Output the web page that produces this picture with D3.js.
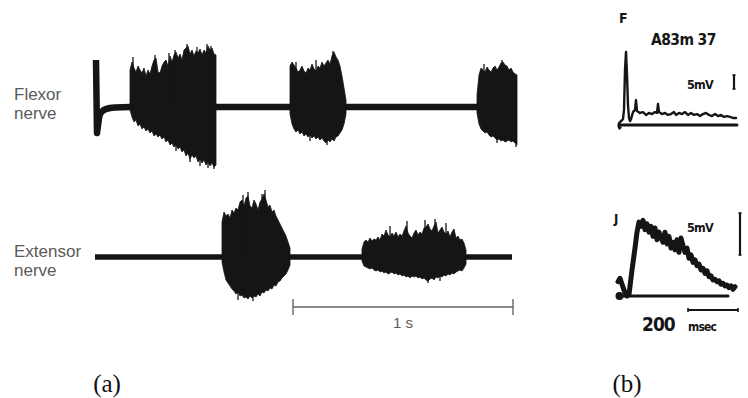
<!DOCTYPE html>
<html>
<head>
<meta charset="utf-8">
<script src="https://cdn.jsdelivr.net/npm/d3@7"></script>
<style>
  html, body { margin: 0; padding: 0; background: #fff; }
  svg { display: block; }
</style>
</head>
<body>
<svg id="fig" width="748" height="398"></svg>
<script>
// ---- (a) nerve recordings: envelope samples, 220 per second, every 2nd sample stored ----
const SAMPLE_RATE = 220;
const STEP = 2;

// flexor stimulus artefact, [sample, amplitude]
const flexorArtefact = [[1, 4.7], [2, -2.6], [4, -1.1], [5, -0.7], [8, -0.35], [11, -0.2], [15, -0.1], [20, -0.05], [35, 0]];
const flexorEnd = 422;
const flexorBurstStarts = [35, 195, 382];
const flexorBurst1Hi = [3.7, 4.5, 3.9, 3.5, 4.1, 3.7, 3.4, 3.9, 3.1, 3.7, 3.3, 4.1, 4.7, 4.9, 3.5, 3.4, 4.1, 4.5, 4.7, 4.1, 5.1, 4.5, 5.2, 5.5, 4.9, 5.3, 4.7, 5.7, 5.9, 6.1, 5.3, 5.7, 5.1, 5.6, 5.4, 5.8, 5.2, 5.7, 5.4, 6.1, 5.7, 5.9, 5.3, 5.2];
const flexorBurst1Lo = [-0.3, -1.0, -1.5, -1.3, -1.9, -1.7, -2.2, -2.0, -2.4, -2.2, -2.6, -2.4, -2.9, -2.7, -3.0, -2.8, -3.2, -3.0, -3.5, -3.3, -3.8, -3.6, -4.0, -3.8, -4.2, -4.0, -4.5, -4.3, -4.9, -4.6, -5.2, -4.8, -5.1, -4.9, -5.5, -5.2, -5.6, -5.3, -5.8, -5.5, -5.9, -5.6, -6.0, -5.8];
const flexorBurst2Hi = [4.1, 4.5, 4.2, 3.9, 3.5, 3.7, 4.1, 3.6, 3.4, 3.9, 3.7, 4.3, 3.8, 3.6, 4.1, 3.9, 4.5, 4.1, 4.4, 4.7, 4.3, 5.1, 5.5, 5.0, 4.7, 4.1, 3.1, 1.9, 0.7];
const flexorBurst2Lo = [-0.7, -1.7, -2.2, -2.5, -2.3, -2.7, -2.5, -2.9, -2.7, -3.0, -2.8, -3.1, -2.9, -3.2, -3.0, -3.3, -3.1, -3.4, -3.6, -3.3, -3.5, -3.2, -3.4, -3.0, -2.9, -2.6, -2.3, -1.7, -0.7];
const flexorBurst3Hi = [1.2, 3.2, 3.9, 3.7, 3.5, 4.0, 3.7, 3.5, 3.9, 4.1, 3.7, 4.0, 4.4, 4.5, 4.2, 4.1, 3.7, 3.9, 3.5, 3.3, 3.2];
const flexorBurst3Lo = [-0.6, -1.7, -2.2, -2.4, -2.6, -2.5, -2.8, -3.0, -2.9, -3.1, -3.3, -3.2, -3.4, -3.3, -3.5, -3.4, -3.3, -3.5, -3.4, -3.6, -3.8];
// single tall spikes standing out of the flexor bursts, [sample, amplitude]
const flexorSpikes = [[38, 5.0], [60, 5.2], [74, 5.4], [80, 5.7], [92, 6.3], [102, 6.0], [112, 6.3], [116, 6.1], [81, -4.4], [95, -5.5], [105, -5.9], [113, -6.1], [119, -6.2], [201, 4.5], [221, 4.7], [238, 5.6], [215, -3.4], [232, -3.8], [389, 4.3], [407, 4.7], [402, -3.6], [421, -4.0]];

const extensorEnd = 417;
const extensorBurstStarts = [127, 267];
const extensorBurst1Hi = [3.5, 4.5, 4.1, 4.3, 3.9, 4.7, 4.4, 4.9, 4.7, 5.5, 5.7, 5.1, 5.9, 6.1, 5.1, 4.9, 5.7, 5.3, 4.7, 5.5, 5.8, 6.3, 5.7, 5.0, 5.2, 4.5, 4.7, 4.1, 3.7, 3.3, 2.9, 2.5, 2.1, 1.5, 0.9];
const extensorBurst1Lo = [-0.5, -1.5, -2.3, -2.6, -2.9, -3.2, -3.4, -3.7, -3.5, -3.9, -3.8, -4.1, -4.0, -4.2, -3.9, -4.1, -3.9, -4.0, -3.7, -3.9, -3.5, -3.6, -3.3, -3.4, -3.1, -3.2, -2.8, -2.9, -2.5, -2.4, -2.1, -1.9, -1.7, -1.3, -0.8];
const extensorBurst2Hi = [0.8, 1.5, 1.7, 1.5, 1.9, 1.6, 1.8, 1.7, 2.0, 1.7, 2.3, 2.1, 2.7, 2.2, 2.0, 2.4, 2.1, 2.5, 2.0, 2.3, 2.1, 2.6, 3.1, 2.4, 2.1, 1.9, 2.4, 2.7, 2.2, 2.5, 2.3, 2.9, 3.0, 3.3, 2.8, 2.6, 3.1, 3.5, 2.4, 2.7, 3.0, 2.5, 2.3, 2.6, 2.0, 2.5, 2.8, 1.9, 2.1, 1.7, 1.8, 1.4, 0.7];
const extensorBurst2Lo = [-0.4, -0.9, -1.0, -1.1, -1.2, -1.1, -1.3, -1.4, -1.3, -1.5, -1.4, -1.6, -1.5, -1.7, -1.6, -1.5, -1.7, -1.6, -1.8, -1.7, -1.9, -1.8, -2.0, -1.9, -2.1, -1.9, -2.0, -1.9, -2.1, -2.0, -2.2, -2.1, -2.3, -2.4, -2.2, -2.1, -2.3, -2.0, -2.1, -1.9, -2.0, -1.8, -1.9, -1.7, -1.8, -1.6, -1.7, -1.5, -1.4, -1.3, -1.4, -1.1, -0.7];
const extensorSpikes = [[148, 6.2], [153, 6.5], [167, 6.3], [170, 6.7], [143, -4.3], [158, -4.4], [295, 3.1], [312, 3.6], [330, 3.7], [340, 3.8], [351, 3.4], [333, -2.6], [345, -2.4]];

const timeBar = [0.9, 1.9]; // seconds
const timeBarLabel = "1 s";
const traceLabels = [["Flexor", "nerve"], ["Extensor", "nerve"]];

// ---- (b) intracellular records F and J: [ms, mV] ----
const traceF = [[2, -0.9], [-2, -1.2], [-6, -0.4], [-4, 0.6], [4, 1.4], [12, 2.1], [16, 5.4], [20, 19.6], [24, 26.1], [28, 17.9], [32, 7.1], [36, 2.5], [40, 1.4], [44, 2.1], [52, 4.6], [60, 5.4], [64, 8.9], [68, 5.0], [80, 4.3], [92, 4.6], [104, 3.6], [116, 4.3], [128, 3.9], [140, 4.6], [148, 4.3], [152, 7.5], [156, 4.6], [168, 3.9], [180, 4.3], [192, 3.6], [204, 3.9], [216, 4.6], [224, 3.6], [236, 4.3], [248, 3.9], [260, 4.6], [272, 3.6], [284, 4.3], [296, 3.6], [308, 3.9], [320, 3.2], [332, 3.9], [344, 4.3], [356, 3.6], [368, 3.2], [380, 3.9], [392, 3.2], [404, 3.6], [416, 2.9], [428, 3.2], [440, 2.9], [452, 2.5], [464, 2.5]];
const traceJ = [[-8, 1.7], [0, 2.1], [8, 1.4], [16, 0.7], [28, 0.0], [36, 0.2], [48, 3.1], [60, 5.7], [68, 7.6], [76, 8.8], [84, 8.3], [92, 9.0], [100, 7.9], [108, 8.6], [116, 7.6], [124, 8.3], [132, 7.1], [140, 8.1], [148, 6.7], [156, 7.6], [164, 6.9], [172, 6.4], [180, 7.6], [188, 6.2], [196, 7.1], [204, 5.7], [212, 6.4], [220, 5.5], [228, 6.7], [236, 5.2], [244, 6.9], [252, 6.0], [260, 5.2], [268, 5.7], [276, 4.5], [284, 4.9], [292, 4.0], [300, 4.3], [308, 3.6], [316, 3.8], [324, 3.1], [332, 3.3], [340, 2.7], [348, 3.0], [356, 2.3], [364, 2.4], [372, 1.9], [380, 2.0], [388, 1.7], [396, 1.8], [404, 1.4], [412, 1.5], [420, 1.2], [428, 1.3], [436, 1.0], [444, 1.2], [452, 0.8], [460, 1.1]];
const baselineF = [0, 468];
const baselineJ = [0, 432];
const voltBar = 5;      // mV
const msecBar = [272, 472]; // 200 msec
const panelLetters = ["F", "J"];
const headerF = "A83m 37";
const figureLetters = ["(a)", "(b)"];

// ---------------------------------------------------------------------------
const svg = d3.select("#fig");
const INK = "#151515";
const GREY = "#5a5a5a";

const x = d3.scaleLinear().domain([0, 2]).range([95, 535]);
const yFlex = d3.scaleLinear().domain([-7, 7]).range([177, 37]);
const yExt = d3.scaleLinear().domain([-7, 7]).range([327, 187]);
const sx = s => x(s / SAMPLE_RATE);

function burstPolygon(start, hi, lo) {
  const top = hi.map((v, i) => [start + i * STEP, v]);
  const bottom = lo.map((v, i) => [start + i * STEP, v]).reverse();
  return top.concat(bottom);
}

function drawTrace(g, yScale, lead, end, bursts, spikes, width) {
  const line = d3.line().x(d => sx(d[0])).y(d => yScale(d[1]));
  const pts = lead.concat([[end, 0]]);
  g.append("path").attr("d", line(pts))
    .attr("fill", "none").attr("stroke", INK)
    .attr("stroke-width", width).attr("stroke-linejoin", "round");
  bursts.forEach(b => {
    g.append("path").attr("d", line(b) + "Z")
      .attr("fill", INK).attr("stroke", INK).attr("stroke-width", 0.8)
      .attr("stroke-linejoin", "miter");
  });
  g.selectAll("line.spike").data(spikes).join("line").attr("class", "spike")
    .attr("x1", d => sx(d[0])).attr("x2", d => sx(d[0]))
    .attr("y1", yScale(0)).attr("y2", d => yScale(d[1]))
    .attr("stroke", INK).attr("stroke-width", 1.3);
}

const gA = svg.append("g");
drawTrace(gA.append("g"), yFlex, flexorArtefact, flexorEnd, [
  burstPolygon(flexorBurstStarts[0], flexorBurst1Hi, flexorBurst1Lo),
  burstPolygon(flexorBurstStarts[1], flexorBurst2Hi, flexorBurst2Lo),
  burstPolygon(flexorBurstStarts[2], flexorBurst3Hi, flexorBurst3Lo)
], flexorSpikes, 6.5);
drawTrace(gA.append("g"), yExt, [[0, 0]], extensorEnd, [
  burstPolygon(extensorBurstStarts[0], extensorBurst1Hi, extensorBurst1Lo),
  burstPolygon(extensorBurstStarts[1], extensorBurst2Hi, extensorBurst2Lo)
], extensorSpikes, 5.5);

// trace names
const labelFont = "'Liberation Sans', Arial, Helvetica, sans-serif";
[100, 257].forEach((base, i) => {
  const t = gA.append("text").attr("x", 14).attr("y", base)
    .attr("font-family", labelFont).attr("font-size", 17).attr("fill", GREY);
  traceLabels[i].forEach((s, j) => t.append("tspan").attr("x", 14).attr("dy", j ? 19 : 0).text(s));
});

// 1 s time bar
const barY = 307;
const bar = gA.append("g").attr("stroke", "#666").attr("stroke-width", 1.4);
bar.append("line").attr("x1", x(timeBar[0])).attr("x2", x(timeBar[1])).attr("y1", barY).attr("y2", barY);
timeBar.forEach(t => bar.append("line").attr("x1", x(t)).attr("x2", x(t)).attr("y1", barY - 8).attr("y2", barY + 8));
gA.append("text").attr("x", x((timeBar[0] + timeBar[1]) / 2)).attr("y", 328)
  .attr("text-anchor", "middle").attr("font-family", labelFont).attr("font-size", 15)
  .attr("fill", GREY).text(timeBarLabel);

// ---- panel (b) ----
const bx = d3.scaleLinear().domain([0, 500]).range([620, 745]);
const yF = d3.scaleLinear().domain([0, 10]).range([125, 97]);
const yJ = d3.scaleLinear().domain([0, 5]).range([296, 254]);
const gB = svg.append("g");
const boldFont = "'DejaVu Sans Condensed', 'DejaVu Sans', sans-serif";

function drawRecord(yScale, pts, base, w) {
  gB.append("path")
    .attr("d", d3.line().x(d => bx(d[0])).y(d => yScale(d[1]))(pts))
    .attr("fill", "none").attr("stroke", INK).attr("stroke-width", w)
    .attr("stroke-linejoin", "round").attr("stroke-linecap", "round");
  gB.append("line").attr("x1", bx(base[0])).attr("x2", bx(base[1]))
    .attr("y1", yScale(0)).attr("y2", yScale(0))
    .attr("stroke", INK).attr("stroke-width", 3).attr("stroke-linecap", "round");
}
drawRecord(yF, traceF, baselineF, 2.4);
drawRecord(yJ, traceJ, baselineJ, 5);
gB.append("circle").attr("cx", bx(-2)).attr("cy", yJ(0)).attr("r", 4).attr("fill", INK);

// voltage bars
function voltageBar(xp, yBottom, yScale) {
  const top = yBottom - (yScale(0) - yScale(voltBar));
  gB.append("line").attr("x1", xp).attr("x2", xp).attr("y1", yBottom).attr("y2", top)
    .attr("stroke", INK).attr("stroke-width", 2.2);
  [yBottom, top].forEach(v => gB.append("line").attr("x1", xp - 1.5).attr("x2", xp + 1.5)
    .attr("y1", v).attr("y2", v).attr("stroke", INK).attr("stroke-width", 1.6));
}
voltageBar(734, 89, yF);
voltageBar(740, 255, yJ);

// msec bar
const mY = 310;
gB.append("line").attr("x1", bx(msecBar[0])).attr("x2", bx(msecBar[1])).attr("y1", mY).attr("y2", mY)
  .attr("stroke", INK).attr("stroke-width", 2.2);
msecBar.forEach(t => gB.append("line").attr("x1", bx(t)).attr("x2", bx(t)).attr("y1", mY - 2).attr("y2", mY + 2)
  .attr("stroke", INK).attr("stroke-width", 1.6));

const btext = (tx, ty, s, size) => gB.append("text").attr("x", tx).attr("y", ty)
  .attr("font-family", boldFont).attr("font-weight", "bold").attr("font-size", size)
  .attr("fill", INK).text(s);
btext(619, 23, panelLetters[0], 14);
btext(651, 45, headerF, 15.5).attr("letter-spacing", -0.6);
btext(687, 89, "5mV", 12.5).attr("letter-spacing", -0.8);
btext(614, 223, panelLetters[1], 13);
btext(687, 232, "5mV", 12.5).attr("letter-spacing", -0.8);
btext(642, 331, "200", 19).attr("letter-spacing", -1);
btext(688, 331, "msec", 12).attr("letter-spacing", -0.8);

// figure letters
const serif = "'Liberation Serif', 'Times New Roman', serif";
[[107, figureLetters[0]], [627, figureLetters[1]]].forEach(([cx, s]) =>
  svg.append("text").attr("x", cx).attr("y", 392).attr("text-anchor", "middle")
    .attr("font-family", serif).attr("font-size", 25).attr("fill", "#111").text(s));
</script>
</body>
</html>
